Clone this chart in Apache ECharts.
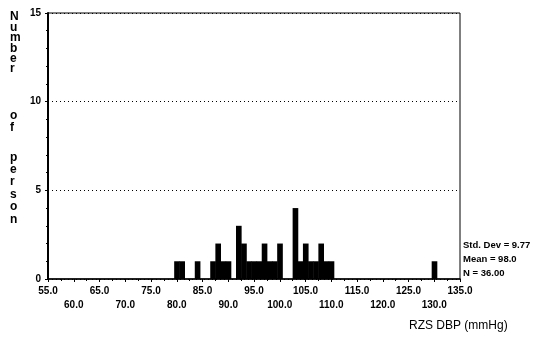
<!DOCTYPE html>
<html>
<head>
<meta charset="utf-8">
<script src="https://cdn.jsdelivr.net/npm/echarts@6/dist/echarts.min.js"></script>
<style>
  html, body { margin: 0; padding: 0; background: #fff; }
  #chart { width: 539px; height: 341px; }
</style>
</head>
<body>
<div id="chart"></div>
<script>
// RZS DBP values (mmHg), one bin per unit
const dbpValues = [80, 81, 84, 87, 88, 89, 90, 92, 93, 94, 95, 96, 97, 98, 99, 100,
                   103, 104, 105, 106, 107, 108, 109, 110, 130]
const personCounts = [1, 1, 1, 1, 2, 1, 1, 3, 2, 1, 1, 1, 2, 1, 1, 2,
                      4, 1, 2, 1, 1, 2, 1, 1, 1]
const statLines = ['Std. Dev = 9.77', 'Mean = 98.0', 'N = 36.00']

const font = '"Liberation Sans", Arial, sans-serif'

const barData = dbpValues.map((v, i) => [v, personCounts[i]])

// vertical y title, one letter per line
const vText = (s, top, lh) => ({
  type: 'text', left: 10, top: top,
  style: {
    text: s.split('').join('\n'),
    fill: '#000', font: 'bold 12px ' + font, lineHeight: lh, align: 'center', width: 12
  }
})

const chart = echarts.init(document.getElementById('chart'))

const option = {
  animation: false,
  grid: {
    left: 48, right: 79, top: 13, bottom: 62,
    show: true, borderColor: '#000', borderWidth: 1
  },
  xAxis: {
    type: 'value',
    min: 55, max: 135, interval: 5,
    axisLine: { lineStyle: { color: '#000', width: 1.5 } },
    axisTick: { show: true, length: 3, lineStyle: { color: '#000' } },
    minorTick: { show: true, splitNumber: 2, length: 2, lineStyle: { color: '#000' } },
    splitLine: { show: false },
    axisLabel: {
      color: '#000', fontFamily: font, fontWeight: 'bold', fontSize: 10,
      margin: 5, lineHeight: 14,
      formatter: (v) => {
        const s = v.toFixed(1)
        return ((v - 55) / 5) % 2 === 1 ? '\n' + s : s
      }
    }
  },
  yAxis: {
    type: 'value',
    min: 0, max: 15, interval: 5,
    axisLine: { show: true, lineStyle: { color: '#000', width: 2 } },
    axisTick: { show: true, length: 3, lineStyle: { color: '#000' } },
    minorTick: { show: true, splitNumber: 5, length: 2, lineStyle: { color: '#000' } },
    splitLine: { show: true, lineStyle: { color: '#000', type: [1, 3], width: 1 } },
    axisLabel: {
      color: '#000', fontFamily: font, fontWeight: 'bold', fontSize: 10, margin: 7
    }
  },
  series: [{
    type: 'custom',
    data: barData,
    renderItem: (params, api) => {
      const x = api.value(0)
      const y = api.value(1)
      const p0 = api.coord([x - 0.5, y])
      const p1 = api.coord([x + 0.5, 0])
      return {
        type: 'rect',
        shape: { x: p0[0], y: p0[1], width: p1[0] - p0[0] + 0.5, height: p1[1] - p0[1] },
        style: { fill: '#000' }
      }
    }
  }],
  graphic: [
    vText('Number', 11, 10.4),
    vText('of', 110, 12),
    vText('person', 151, 12.4),
    {
      type: 'text', left: 409, top: 320,
      style: { text: 'RZS DBP (mmHg)', fill: '#000', font: '12px ' + font }
    },
    {
      type: 'text', left: 463, top: 238,
      style: {
        text: statLines.join('\n'),
        fill: '#000', font: 'bold 9.5px ' + font, lineHeight: 14
      }
    }
  ]
}

chart.setOption(option)
</script>
</body>
</html>
